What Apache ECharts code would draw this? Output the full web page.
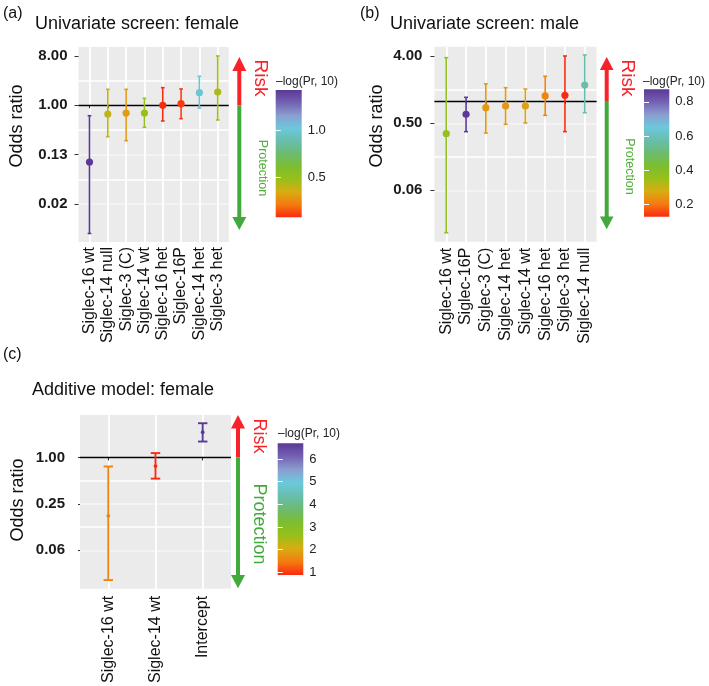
<!DOCTYPE html>
<html><head><meta charset="utf-8">
<script src="https://cdn.jsdelivr.net/npm/echarts@6/dist/echarts.min.js"></script>
<style>html,body{margin:0;padding:0;background:#fff}#c{width:709px;height:686px}</style>
</head><body><div id="c"></div>
<script>
// ---------- data (odds ratios, CI, -log10 p) ----------
const catsA = ['Siglec-16 wt','Siglec-14 null','Siglec-3 (C)','Siglec-14 wt','Siglec-16 het','Siglec-16P','Siglec-14 het','Siglec-3 het'];
const orA  = [0.0915, 0.693, 0.723, 0.723, 1.00, 1.07, 1.70, 1.75];
const loA  = [0.0045, 0.266, 0.225, 0.395, 0.516, 0.569, 0.892, 0.538];
const hiA  = [0.645, 1.96, 1.96, 1.34, 2.10, 1.99, 3.40, 8.0];
const nlpA = [1.43, 0.40, 0.30, 0.485, 0.08, 0.107, 1.00, 0.445];

const catsB = ['Siglec-16 wt','Siglec-16P','Siglec-3 (C)','Siglec-14 het','Siglec-14 wt','Siglec-16 het','Siglec-3 het','Siglec-14 null'];
const orB  = [0.362, 0.662, 0.812, 0.856, 0.856, 1.17, 1.19, 1.64];
const loB  = [0.0168, 0.386, 0.370, 0.485, 0.505, 0.64, 0.386, 0.695];
const hiB  = [3.83, 1.12, 1.70, 1.51, 1.45, 2.15, 4.04, 4.17];
const nlpB = [0.366, 0.873, 0.246, 0.246, 0.26, 0.216, 0.127, 0.575];

const catsC = ['Siglec-16 wt','Siglec-14 wt','Intercept'];
const orC  = [0.175, 0.773, 2.13];
const loC  = [0.0257, 0.532, 1.61];
const hiC  = [0.764, 1.14, 2.78];
const nlpC = [1.58, 0.88, 6.69];

// tick labels (odds ratio values) and minor grid positions
const yTicksA = [8, 1, 0.125, 0.015625];
const yMinorA = [2.828, 0.3536, 0.0442, 0.005524];
const yTicksB = [4, 0.5, 0.0625];
const yMinorB = [1.414, 0.1768, 0.0221];
const yTicksC = [1, 0.25, 0.0625];
const yMinorC = [2, 0.5, 0.125, 0.03125];

// colour bars
const cbRangeA = [0.08, 1.43];  const cbTicksA = [0.5, 1.0];
const cbRangeB = [0.127, 0.873]; const cbTicksB = [0.2, 0.4, 0.6, 0.8];
const cbRangeC = [0.88, 6.69];  const cbTicksC = [1, 2, 3, 4, 5, 6];
const CB_COLORS = ['#FA2A10','#F47B10','#D8AC12','#98C01A','#7CBE30','#6CBB70','#68BEAC','#6CC8DC','#8A9ED0','#7462B4','#5B3896'];

// ---------- styling ----------
const FF = "'Liberation Sans', Arial, Helvetica, sans-serif";
const RED = '#F8232A', GREEN = '#42A93B';
const L2 = Math.log2;

const G = {
  a: {left:78.5, top:47, width:150.2, height:195, ymin:-8.315, ymax:3.546},
  b: {left:434.4, top:46.7, width:162.2, height:195, ymin:-6.30, ymax:2.43},
  c: {left:80, top:415, width:151, height:181, ymin:-5.66, ymax:1.83},
  ca: {left:275.7, top:90, width:26, height:127.3},
  cb: {left:644, top:89.3, width:25.3, height:127.4},
  cc: {left:277.7, top:443.3, width:25.6, height:131.7}
};

function rows(or, lo, hi, nlp) {
  return or.map((v, i) => [i + 1, L2(lo[i]), L2(v), L2(hi[i]), nlp[i]]);
}

function gridOf(g, bg) {
  return {left:g.left, top:g.top, width:g.width, height:g.height, show:!!bg,
          backgroundColor: bg || 'transparent', borderWidth:0, containLabel:false};
}

function xAx(gi, cats, margin) {
  const vals = cats.map((_, i) => i + 1);
  return {type:'value', gridIndex:gi, min:0.4, max:cats.length + 0.6,
    axisLine:{show:false},
    axisTick:{show:true, length:3, customValues:vals, lineStyle:{color:'#333', width:1}},
    axisLabel:{customValues:vals, rotate:90, margin:margin, fontSize:16, color:'#111', fontFamily:FF,
               formatter: v => cats[Math.round(v) - 1]},
    splitLine:{show:true, lineStyle:{color:'#fff', width:1.8}}};
}

// main y axis: labels at major ticks; grid lines at minor + major positions
// (sorted ascending, alternating minor/major -> colour array cycles)
function yMain(gi, g, ticks, minor, margin) {
  const maj = ticks.map(L2);
  const all = maj.concat(minor.map(L2)).sort((p, q) => p - q);
  const first = minor.map(L2).indexOf(all[0]) >= 0;
  return {type:'value', gridIndex:gi, min:g.ymin, max:g.ymax, position:'left',
    axisLine:{show:false},
    axisTick:{show:false, customValues:all},
    axisLabel:{customValues:maj, margin:margin, fontSize:15, fontWeight:'bold', color:'#1a1a1a', fontFamily:FF,
               formatter: v => Math.pow(2, v).toFixed(2)},
    splitLine:{show:true, showMinLine:false, showMaxLine:false,
               lineStyle:{color: first ? ['#F6F6F6', '#FFFFFF'] : ['#FFFFFF', '#F6F6F6'], width:1.6}}};
}
// tick marks at the labelled positions
function yTicks(gi, g, ticks, tlen) {
  return {type:'value', gridIndex:gi, min:g.ymin, max:g.ymax, position:'left',
    axisLine:{show:false}, axisLabel:{show:false}, splitLine:{show:false},
    axisTick:{show:true, length:tlen, customValues:ticks.map(L2), lineStyle:{color:'#333', width:1}}};
}
function cbAxis(gi, range, ticks, pos, fmt) {
  return {type:'value', gridIndex:gi, min:range[0], max:range[1], position:pos, z:5,
    axisLine:{show:false}, splitLine:{show:false},
    axisTick:{show:true, inside:true, length:5, customValues:ticks, lineStyle:{color:'#fff', width:1}},
    axisLabel:{show: pos === 'right', customValues:ticks, margin:6, fontSize:13, color:'#222', fontFamily:FF,
               formatter:fmt}};
}

function makeRender(r, lw) {
  return function (params, api) {
    const x = api.value(0);
    const lo = api.coord([x, api.value(1)]);
    const pt = api.coord([x, api.value(2)]);
    const hi = api.coord([x, api.value(3)]);
    const cap = api.size([0.1, 0])[0];
    const color = api.visual('color');
    const st = {stroke:color, lineWidth:lw};
    return {type:'group', children:[
      {type:'line', shape:{x1:lo[0], y1:lo[1], x2:hi[0], y2:hi[1]}, style:st},
      {type:'line', shape:{x1:lo[0]-cap, y1:lo[1], x2:lo[0]+cap, y2:lo[1]}, style:st},
      {type:'line', shape:{x1:hi[0]-cap, y1:hi[1], x2:hi[0]+cap, y2:hi[1]}, style:st},
      {type:'circle', shape:{cx:pt[0], cy:pt[1], r:r}, style:{fill:color}}
    ]};
  };
}
// reference line at OR = 1
const hline = {silent:true, symbol:['none','none'], label:{show:false}, animation:false,
  emphasis:{disabled:true}, data:[{yAxis:0, lineStyle:{color:'#000', width:1.3, type:'solid'}}]};

function ser(xi, yi, data, r, lw) {
  return {type:'custom', xAxisIndex:xi, yAxisIndex:yi, renderItem:makeRender(r, lw),
    encode:{x:0, y:[1,2,3]}, data:data, z:10, clip:false, markLine:hline, animation:false};
}

const chart = echarts.init(document.getElementById('c'), null, {renderer:'canvas'});
chart.setOption({
  animation:false,
  backgroundColor:'#fff',
  grid:[gridOf(G.a,'#EBEBEB'), gridOf(G.b,'#EBEBEB'), gridOf(G.c,'#EBEBEB'), gridOf(G.ca), gridOf(G.cb), gridOf(G.cc)],
  xAxis:[xAx(0, catsA, 5), xAx(1, catsB, 6), xAx(2, catsC, 7),
         {type:'value', gridIndex:3, show:false, min:0, max:1},
         {type:'value', gridIndex:4, show:false, min:0, max:1},
         {type:'value', gridIndex:5, show:false, min:0, max:1}],
  yAxis:[yMain(0, G.a, yTicksA, yMinorA, 11), yMain(1, G.b, yTicksB, yMinorB, 12), yMain(2, G.c, yTicksC, yMinorC, 15),
         cbAxis(3, cbRangeA, cbTicksA, 'right', v => v.toFixed(1)), cbAxis(3, cbRangeA, cbTicksA, 'left'),
         cbAxis(4, cbRangeB, cbTicksB, 'right', v => v.toFixed(1)), cbAxis(4, cbRangeB, cbTicksB, 'left'),
         cbAxis(5, cbRangeC, cbTicksC, 'right', v => String(Math.round(v))), cbAxis(5, cbRangeC, cbTicksC, 'left'),
         yTicks(0, G.a, yTicksA, 4), yTicks(1, G.b, yTicksB, 4), yTicks(2, G.c, yTicksC, 2)],
  visualMap:[
    {type:'continuous', show:false, seriesIndex:0, dimension:4, min:cbRangeA[0], max:cbRangeA[1], inRange:{color:CB_COLORS}},
    {type:'continuous', show:false, seriesIndex:1, dimension:4, min:cbRangeB[0], max:cbRangeB[1], inRange:{color:CB_COLORS}},
    {type:'continuous', show:false, seriesIndex:2, dimension:4, min:cbRangeC[0], max:cbRangeC[1], inRange:{color:CB_COLORS}}
  ],
  series:[
    ser(0, 0, rows(orA, loA, hiA, nlpA), 3.6, 1.6),
    ser(1, 1, rows(orB, loB, hiB, nlpB), 3.6, 1.6),
    ser(2, 2, rows(orC, loC, hiC, nlpC), 1.9, 1.9)
  ]
});

// ---------- annotations ----------
function txt(x, y, s, size, color, opts) {
  opts = opts || {};
  return {type:'text', x:x, y:y, rotation:opts.rot || 0, z:10,
    style:{text:s, fontSize:size, fill:color, fontFamily:FF, fontWeight:opts.bold ? 'bold' : 'normal',
           align:opts.align || 'left', verticalAlign:'middle'}};
}
function cbRect(g) {
  const stops = CB_COLORS.map((c, i) => ({offset:i / (CB_COLORS.length - 1), color:c}));
  return {type:'rect', z:1, shape:{x:g.left, y:g.top, width:g.width, height:g.height},
    style:{fill:new echarts.graphic.LinearGradient(0, 1, 0, 0, stops)}};
}
function arrow(x, tipTop, baseTop, ySplit, baseBot, tipBot, hw, sw) {
  return [
    {type:'polygon', z:10, shape:{points:[[x, tipTop], [x - hw, baseTop], [x + hw, baseTop]]}, style:{fill:RED}},
    {type:'rect', z:10, shape:{x:x - sw / 2, y:baseTop - 0.5, width:sw, height:ySplit - baseTop + 0.5}, style:{fill:RED}},
    {type:'rect', z:10, shape:{x:x - sw / 2, y:ySplit, width:sw, height:baseBot - ySplit + 0.5}, style:{fill:GREEN}},
    {type:'polygon', z:10, shape:{points:[[x, tipBot], [x - hw, baseBot], [x + hw, baseBot]]}, style:{fill:GREEN}}
  ];
}
const splitA = chart.convertToPixel({yAxisIndex:0}, 0);
const splitB = chart.convertToPixel({yAxisIndex:1}, 0);
const splitC = chart.convertToPixel({yAxisIndex:2}, 0);
const R90 = Math.PI / 2;

const els = [
  cbRect(G.ca), cbRect(G.cb), cbRect(G.cc),
  ...arrow(239.3, 57, 71, splitA, 217, 230, 7, 4),
  ...arrow(606.7, 57, 70, splitB, 216.5, 229.3, 6.8, 4),
  ...arrow(238, 415, 428.5, splitC, 575, 588.3, 7, 4),
  txt(3, 13.5, '(a)', 16, '#111'),
  txt(35, 24.5, 'Univariate screen: female', 18, '#111'),
  txt(360, 13.5, '(b)', 16, '#111'),
  txt(390, 24.5, 'Univariate screen: male', 18, '#111'),
  txt(3, 355, '(c)', 16, '#111'),
  txt(32, 390, 'Additive model: female', 18, '#111'),
  txt(17, 126, 'Odds ratio', 18, '#111', {rot:R90, align:'center'}),
  txt(377, 126, 'Odds ratio', 18, '#111', {rot:R90, align:'center'}),
  txt(18, 500, 'Odds ratio', 18, '#111', {rot:R90, align:'center'}),
  txt(260, 78, 'Risk', 19, RED, {rot:-R90, align:'center'}),
  txt(262, 168, 'Protection', 12.5, '#55AE3D', {rot:-R90, align:'center'}),
  txt(627, 78, 'Risk', 19, RED, {rot:-R90, align:'center'}),
  txt(629, 166.5, 'Protection', 12.5, '#55AE3D', {rot:-R90, align:'center'}),
  txt(259, 436, 'Risk', 18, RED, {rot:-R90, align:'center'}),
  txt(259, 524, 'Protection', 18, GREEN, {rot:-R90, align:'center'}),
  txt(276, 82, '\u2013log(Pr, 10)', 12, '#222'),
  txt(643, 81.7, '\u2013log(Pr, 10)', 12, '#222'),
  txt(278, 433.5, '\u2013log(Pr, 10)', 12, '#222')
];
chart.setOption({graphic:{elements:els}});
</script>
</body></html>
